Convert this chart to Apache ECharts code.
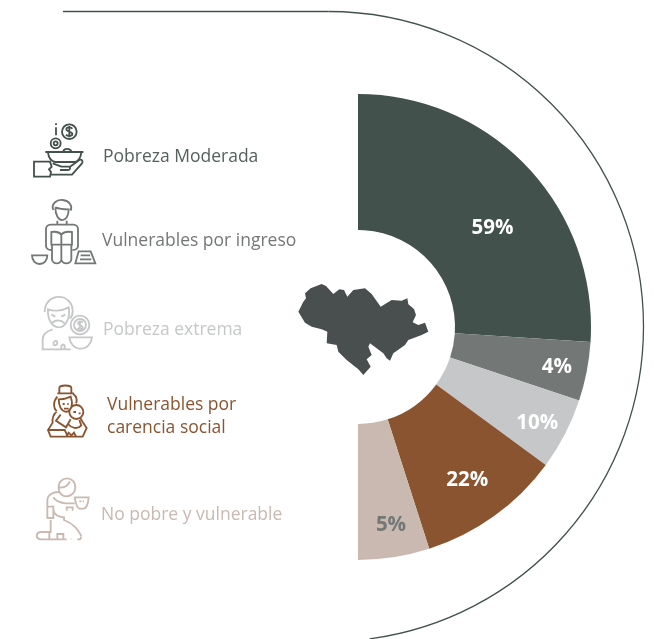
<!DOCTYPE html>
<html style="height: 100%">
<head>
    <meta charset="utf-8">
    <script src="https://cdn.jsdelivr.net/npm/echarts@6/dist/echarts.min.js"></script>
</head>
<body style="height: 100%; margin: 0; background: #fff">
    <div id="container" style="width: 654px; height: 639px"></div>
    <script type="text/javascript">
        var categories = ['Pobreza Moderada', 'Vulnerables por ingreso', 'Pobreza extrema', 'Vulnerables por\ncarencia social', 'No pobre y vulnerable'];
        // printed percentages
        var percentLabels = ['59%', '4%', '10%', '22%', '5%'];
        // the drawn wedges are not proportional to the printed numbers, so these are the angles read off the picture
        var wedgeDegrees = [93.7, 14.7, 17.9, 35.9, 17.8];

        var wedgeColors = ['#43514d', '#737877', '#c5c7c8', '#8b5430', '#c9b9b0'];
        var textColors = ['#55615e', '#737877', '#c5c7c8', '#8b5430', '#c9b9b0'];
        var percentColors = ['#fff', '#fff', '#fff', '#fff', '#737877'];
        var percentOffsets = [[12, 16], [34, 8], [30, 19], [11, 17], [7, 32]];
        var textPositions = [[103, 157], [102, 241], [103, 330], [107, 417], [101, 515]];

        // Line icons, traced in 3x crop coordinates: origin is the page position of the crop
        var icons = [
            {
                origin: [20, 110], color: '#43514d', paths: [
                    'M170 65a22 22 0 1 1 -44 0a22 22 0 1 1 44 0',
                    'M157 56c-4 -6 -18 -5 -18 2c0 8 18 6 18 14c0 7 -14 8 -19 2M148 48v34',
                    'M108 40v5M108 52v24',
                    'M122 100a15 15 0 1 1 -30 0a15 15 0 1 1 30 0M113 100a6 6 0 1 1 -12 0a6 6 0 1 1 12 0',
                    'M130 124c2 -10 20 -10 24 0M76 126h114M84 128c2 16 10 26 22 28h60c12 -4 16 -14 18 -28',
                    'M90 155h-48v45h48l3 -14l-6 -8l8 -8z',
                    'M98 160l26 10h22c6 0 6 10 -2 10h-24M148 172l30 -22c8 -4 12 4 8 10l-30 34h-62'
                ]
            },
            {
                origin: [20, 110], color: '#737877', paths: [
                    'M100 300c-8 -18 10 -32 28 -30c20 2 30 18 24 32',
                    'M106 292c0 50 40 50 40 6c-14 0 -30 -2 -40 -6',
                    'M112 332v12h28v-12',
                    'M110 344h-18c-8 0 -14 6 -14 14v50c0 8 8 12 16 12M142 344h18c8 0 14 6 14 14v50c0 8 -8 12 -16 12',
                    'M94 366c12 -2 24 0 30 8c6 -8 18 -10 32 -8v38h-62zM124 374v30',
                    'M96 404v44c0 16 28 16 28 0v-44M124 448c0 16 30 16 30 0v-44',
                    'M36 436h46c0 16 -10 26 -23 26c-13 0 -23 -10 -23 -26z',
                    'M176 424h36l14 36h-60zM182 436h28M180 448h34'
                ]
            },
            {
                origin: [20, 280], color: '#c5c7c8', paths: [
                    'M74 96c0 -60 84 -60 84 -2c0 10 -4 18 -8 22',
                    'M84 88c14 6 40 6 62 -6c6 30 -8 60 -30 60c-20 0 -34 -24 -32 -54z',
                    'M94 104l12 6M136 104l-12 6M96 130c10 -12 26 -12 38 0',
                    'M98 148c-20 6 -30 14 -30 30v30h84',
                    'M100 192c0 -8 10 -14 12 -4c0 8 -10 10 -12 4zM124 208v-10c4 -6 8 -6 10 0v10',
                    'M208 135a28 28 0 1 1 -56 0a28 28 0 1 1 56 0M198 135a18 18 0 1 1 -36 0a18 18 0 1 1 36 0',
                    'M188 128c-4 -6 -14 -4 -14 2c0 8 14 4 14 12c0 6 -12 6 -15 1M180 122v26',
                    'M148 172h68c-2 18 -14 34 -34 34c-20 0 -32 -16 -34 -34z'
                ]
            },
            {
                origin: [20, 280], color: '#8b5430', paths: [
                    'M118 338v-14c0 -10 36 -10 36 0v14M112 340h50',
                    'M112 350c-14 16 -12 34 -2 44M160 342c10 8 12 18 8 28',
                    'M116 358c0 44 38 50 40 12c0 -8 -2 -14 -4 -20c-12 6 -26 8 -36 8z',
                    'M128 372h6M146 372h-4M132 386h14',
                    'M190 396a21 21 0 1 1 -42 0a21 21 0 1 1 42 0M160 396h8M176 400h6',
                    'M110 394c-8 8 -14 22 -12 34l-14 22l8 20h96l12 -26l-12 -18l-8 -14',
                    'M122 404l-14 18l30 20l14 -24M84 450h50l10 20M138 470l8 -12l8 8l8 -8l6 12',
                    'M178 420l6 16c-12 14 -30 8 -40 -4'
                ]
            },
            {
                origin: [20, 440], color: '#c9b9b0', paths: [
                    'M116 142c0 -36 50 -36 50 0c0 22 -24 32 -38 24c-8 -4 -12 -14 -12 -24zM118 142c14 2 26 -6 32 -18',
                    'M116 156c-16 0 -34 8 -34 26v54',
                    'M100 172c6 10 18 16 36 18h28M164 172h42l-2 14c-2 10 -6 18 -12 20h-14c-6 -2 -10 -10 -14 -34z',
                    'M178 184h6M188 184h4M140 212v-10h18v10',
                    'M82 200h18v34h-18M100 208c0 14 14 24 32 24v8c20 8 42 26 52 48',
                    'M92 240v36h-28c-18 0 -18 22 0 22h76M184 290l-4 8h-8M154 298v-2',
                    'M88 276v22M112 298v-16h18v16'
                ]
            }
        ];

        // Map silhouette traced in the same way
        var mapOutline = [[45, 70], [62, 55], [95, 42], [108, 48], [130, 72], [148, 58], [162, 60], [172, 80], [190, 60], [225, 55], [245, 72], [272, 110], [305, 90], [335, 92], [352, 85], [355, 103], [372, 117], [378, 135], [368, 157], [385, 165], [405, 158], [415, 185], [395, 195], [355, 210], [345, 225], [310, 250], [300, 272], [290, 265], [280, 250], [240, 220], [235, 230], [245, 255], [230, 268], [242, 290], [220, 315], [205, 298], [170, 270], [145, 245], [140, 225], [110, 220], [112, 185], [95, 178], [65, 170], [45, 158], [25, 125], [40, 95], [48, 85]];

        // graphic component has no plain 'path' type, svg strings need a registered shape
        function pathShape(name, pathData) {
            echarts.graphic.registerShape(name, echarts.graphic.extendPath(pathData, {}));
            return name;
        }

        var myChart = echarts.init(document.getElementById('container'), null, { renderer: 'canvas' });

        var graphics = [
            {
                type: 'polygon',
                x: 290, y: 270, scaleX: 1 / 3, scaleY: 1 / 3,
                shape: { points: mapOutline },
                style: { fill: '#494e4e' }
            },
            // top rule running into the big arc
            {
                type: 'line',
                shape: { x1: 63, y1: 11.5, x2: 328.5, y2: 11.5 },
                style: { stroke: '#43514d', lineWidth: 1.3 }
            },
            {
                type: 'arc',
                shape: { cx: 328.5, cy: 326.5, r: 315, startAngle: -Math.PI / 2, endAngle: 1.44, clockwise: true },
                style: { fill: null, stroke: '#43514d', lineWidth: 1.3 }
            }
        ];

        icons.forEach(function (icon, i) {
            graphics.push({
                type: pathShape('icon' + i, icon.paths.join(' ')),
                x: icon.origin[0], y: icon.origin[1], scaleX: 1 / 3, scaleY: 1 / 3,
                style: { fill: 'none', stroke: icon.color, lineWidth: 5.5 }
            });
        });

        categories.forEach(function (name, i) {
            graphics.push({
                type: 'text',
                x: textPositions[i][0], y: textPositions[i][1],
                style: {
                    text: name,
                    fill: textColors[i],
                    font: '17.5px "Open Sans"',
                    lineHeight: 23,
                    verticalAlign: 'middle'
                }
            });
        });

        var option = {
            animation: false,
            backgroundColor: '#fff',
            graphic: graphics,
            series: [{
                type: 'pie',
                center: [358, 327],
                radius: [97, 233],
                startAngle: 90,
                endAngle: -90,
                clockwise: true,
                silent: true,
                labelLine: { show: false },
                data: wedgeDegrees.map(function (deg, i) {
                    return {
                        name: categories[i],
                        value: deg,
                        itemStyle: { color: wedgeColors[i] },
                        label: {
                            show: true,
                            position: 'inside',
                            formatter: percentLabels[i],
                            color: percentColors[i],
                            fontFamily: 'Open Sans',
                            fontWeight: 'bold',
                            fontSize: 20.5,
                            offset: percentOffsets[i]
                        }
                    };
                })
            }]
        };

        myChart.setOption(option);
    </script>
</body>
</html>
